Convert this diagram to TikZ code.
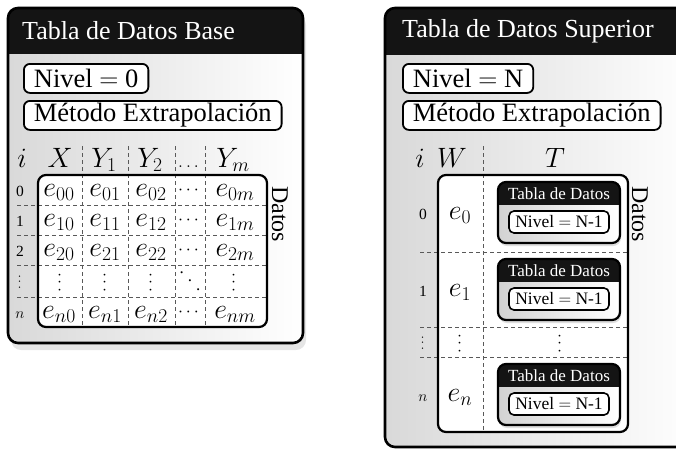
\documentclass[tikz,border=0pt]{standalone}
\usepackage{fix-cm}
\usepackage{amsmath}
\usepackage{graphicx}
\usepackage{fontspec}
\setmainfont{Liberation Serif}
\usetikzlibrary{positioning,shadows}
\newcommand{\vpuntos}{\rotatebox{90}{$\cdots$}}
\newcommand{\dpuntos}{\raisebox{16.6pt}{.}\hspace{4pt}\raisebox{8.3pt}{.}\hspace{4pt}.}
\begin{document}
\begin{tikzpicture}[x=1pt,y=-1pt,
        panel/.style={rounded corners=10pt,left color=gray!30,right color=white},
        panelborder/.style={draw=black,line width=2.6pt,rounded corners=10pt},
        header/.style={fill=black!92},
        titletext/.style={text=white,anchor=west,inner sep=0pt,font=\fontsize{26}{30}\selectfont},
        levelbox/.style={draw=black,fill=white,line width=1.8pt,rounded corners=6pt,inner xsep=10pt,inner ysep=0pt,
            minimum height=29pt,anchor=north west,font=\fontsize{26.5}{30}\selectfont},
        colhead/.style={inner sep=0pt,anchor=base,font=\fontsize{28}{32}\selectfont},
        cell/.style={inner sep=0pt,anchor=base,font=\fontsize{28}{32}\selectfont},
        cdots/.style={inner sep=0pt,anchor=base,font=\fontsize{18}{22}\selectfont},
        dots/.style={inner sep=0pt,font=\fontsize{17}{20}\selectfont},
        rowlabel/.style={inner sep=0pt,anchor=base,font=\fontsize{15.5}{18}\selectfont},
        databox/.style={draw=black,line width=2.2pt,rounded corners=8pt},
        grid/.style={black!65,line width=0.9pt,dash pattern=on 4pt off 3pt},
        sidelabel/.style={rotate=-90,anchor=base west,inner sep=0pt,font=\fontsize{24}{28}\selectfont},
        minibox/.style={rounded corners=8pt,left color=gray!35,right color=white},
        miniborder/.style={draw=black,line width=2.2pt,rounded corners=8pt},
        minititle/.style={text=white,inner sep=0pt,font=\fontsize{17}{20}\selectfont},
        minilevel/.style={draw=black,fill=white,line width=1.6pt,rounded corners=5pt,minimum width=100pt,
            minimum height=22pt,inner sep=0pt,font=\fontsize{17.5}{20}\selectfont}]
\clip (0,0) rectangle (676,448);

% Tabla de Datos Base
\fill[panel,drop shadow={shadow xshift=3pt,shadow yshift=-7pt,fill=gray!40}] (8,8) rectangle (303,343);
\begin{scope}
    \clip[rounded corners=10pt] (8,8) rectangle (303,343);
    \fill[header] (8,8) rectangle (303,54);
\end{scope}
\draw[panelborder] (8,8) rectangle (303,343);
\node[titletext] (tituloBase) at (22,31) {Tabla de Datos Base};
\node[levelbox] (nivelBase) at (23,63) {Nivel $=$ 0};
\node[levelbox] (metodoBase) at (23,100) {Método Extrapolación};

\node[colhead] (iBase) at (22,167) {$i$};
\node[colhead] (xBase) at (60,167) {$X$};
\node[colhead] (yunoBase) at (104,167) {$Y_1$};
\node[colhead] (ydosBase) at (150,167) {$Y_2$};
\node[cdots] (ptsBase) at (190,167) {$\dots$};
\node[colhead] (ymBase) at (233,167) {$Y_m$};

\fill[white,rounded corners=8pt] (38,175) rectangle (267,327);
\foreach \x in {82,128,175,205}
    \draw[grid] (\x,146) -- (\x,327);
\foreach \y in {205,235,265,297}
    \draw[grid] (17,\y) -- (267,\y);
\draw[databox] (38,175) rectangle (267,327);

\foreach \r/\yc/\lbl in {0/190/0,1/220/1,2/250/2,n/312/$n$}{
    \node[rowlabel] (filaBase\r) at (20,\yc+6) {\lbl};
    \node[cell] (eBase\r x) at (59,\yc+6) {$e_{\r0}$};
    \node[cell] (eBase\r a) at (105,\yc+6) {$e_{\r1}$};
    \node[cell] (eBase\r b) at (151,\yc+6) {$e_{\r2}$};
    \node[cdots] (eBase\r p) at (190,\yc+4) {$\cdots$};
    \node[cell] (eBase\r m) at (235,\yc+6) {$e_{\r m}$};
}
\node[dots,font=\fontsize{13}{16}\selectfont] (filaBasePts) at (20,281) {\vpuntos};
\node[dots] (ptsBasex) at (60,281) {\vpuntos};
\node[dots] (ptsBasea) at (105,281) {\vpuntos};
\node[dots] (ptsBaseb) at (151,281) {\vpuntos};
\node[dots] (ptsBasep) at (190,281) {\dpuntos};
\node[dots] (ptsBasem) at (234,281) {\vpuntos};
\node[sidelabel] (datosBase) at (272,186) {Datos};

% Tabla de Datos Superior
\fill[panel] (385,8) rectangle (700,447);
\begin{scope}
    \clip[rounded corners=10pt] (385,8) rectangle (700,447);
    \fill[header] (385,8) rectangle (700,55);
\end{scope}
\draw[panelborder] (385,8) rectangle (700,447);
\node[titletext] (tituloSup) at (402,31) {Tabla de Datos Superior};
\node[levelbox] (nivelSup) at (402,63) {Nivel $=$ N};
\node[levelbox] (metodoSup) at (402,100) {Método Extrapolación};

\node[colhead] (iSup) at (420,167) {$i$};
\node[colhead] (wSup) at (452,167) {$W$};
\node[colhead] (tSup) at (555,167) {$T$};

\fill[white,rounded corners=8pt] (438,175) rectangle (628,432);
\draw[grid] (483,146) -- (483,432);
\foreach \y in {252,327,357}
    \draw[grid] (420,\y) -- (628,\y);
\draw[databox] (438,175) rectangle (628,432);

\foreach \r/\yc/\lbl in {0/213/0,1/290/1,n/395/$n$}{
    \node[rowlabel] (filaSup\r) at (423,\yc+6) {\lbl};
    \node[cell] (eSup\r) at (460,\yc+6) {$e_{\r}$};
    \begin{scope}[shift={(559,\yc)}]
        \fill[minibox,drop shadow={shadow xshift=1pt,shadow yshift=-3pt,fill=gray!50}] (-61,-31) rectangle (61,30);
        \begin{scope}
            \clip[rounded corners=8pt] (-61,-31) rectangle (61,30);
            \fill[header] (-61,-31) rectangle (61,-8);
        \end{scope}
        \draw[miniborder] (-61,-31) rectangle (61,30);
        \node[minititle] (mtitulo\r) at (0,-19) {Tabla de Datos};
        \node[minilevel] (mnivel\r) at (0,9) {Nivel $=$ N-1};
    \end{scope}
}
\node[dots,font=\fontsize{13}{16}\selectfont] (filaSupPts) at (423,342) {\vpuntos};
\node[dots] (ptsSupw) at (460,342) {\vpuntos};
\node[dots] (ptsSupt) at (560,342) {\vpuntos};
\node[sidelabel] (datosSup) at (632,186) {Datos};
\end{tikzpicture}
\end{document}
